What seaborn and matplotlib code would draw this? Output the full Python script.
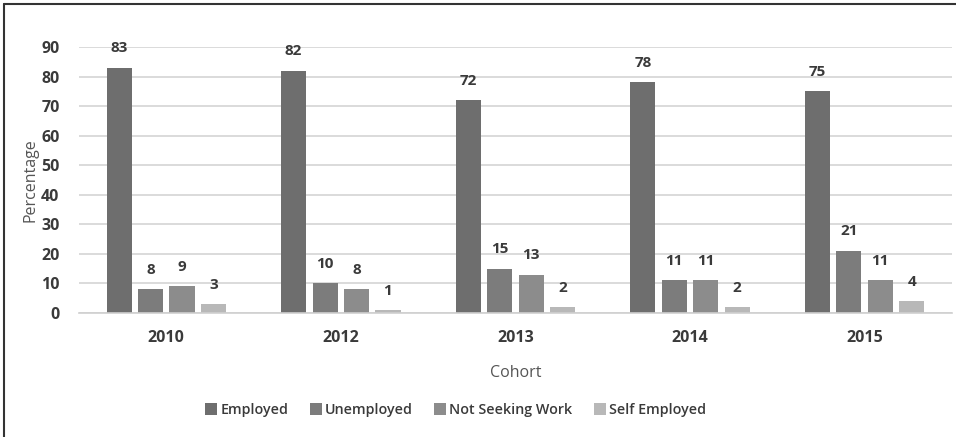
import matplotlib
matplotlib.use("Agg")
import matplotlib.pyplot as plt
from matplotlib.lines import Line2D
import seaborn as sns
import pandas as pd

cohorts = ["2010", "2012", "2013", "2014", "2015"]
statuses = ["Employed", "Unemployed", "Not Seeking Work", "Self Employed"]
employed = [83, 82, 72, 78, 75]
unemployed = [8, 10, 15, 11, 21]
not_seeking = [9, 8, 13, 11, 11]
self_employed = [3, 1, 2, 2, 4]
y_ticks = [0, 10, 20, 30, 40, 50, 60, 70, 80, 90]

palette = ["#6e6e6e", "#7c7c7c", "#8c8c8c", "#b8b8b8"]

rows = []
for status, values in zip(statuses, [employed, unemployed, not_seeking, self_employed]):
    for cohort, v in zip(cohorts, values):
        rows.append({"Cohort": cohort, "Status": status, "Percentage": v})
df = pd.DataFrame(rows)

sns.set_theme(style="white")
plt.rcParams["font.family"] = ["Open Sans", "DejaVu Sans"]

fig = plt.figure(figsize=(9.56, 4.37), dpi=100)
ax = fig.add_axes([0.0826, 0.2838, 0.913, 0.6086])

sns.barplot(data=df, x="Cohort", y="Percentage", hue="Status",
            order=cohorts, hue_order=statuses, palette=palette,
            width=0.72, gap=0.2, saturation=1, errorbar=None,
            linewidth=0, ax=ax, legend=False)

for container in ax.containers:
    ax.bar_label(container, padding=9, fontsize=11, fontweight="bold",
                 color="#3a3a3a")

ax.set_ylim(0, 90)
ax.set_yticks(y_ticks)
ax.yaxis.grid(True, color="#d4d4d4", linewidth=1.2)
ax.set_axisbelow(True)
for side in ["top", "right", "left"]:
    ax.spines[side].set_visible(False)
ax.spines["bottom"].set_color("#cfcfcf")
ax.spines["bottom"].set_linewidth(1.2)
ax.tick_params(axis="both", length=0, labelsize=11.5, labelcolor="#3a3a3a")
ax.tick_params(axis="x", pad=12)
ax.tick_params(axis="y", pad=14)
for lbl in ax.get_xticklabels() + ax.get_yticklabels():
    lbl.set_fontweight("bold")

ax.set_xlabel("Cohort", fontsize=11.5, color="#555555", labelpad=14)
ax.set_ylabel("Percentage", fontsize=11.5, color="#555555", labelpad=2)

handles = [Line2D([], [], marker="s", linestyle="none", markersize=8,
                  markerfacecolor=c, markeredgewidth=0) for c in palette]
leg = fig.legend(handles, statuses, loc="center", bbox_to_anchor=(0.4775, 0.062),
                 ncol=4, frameon=False, fontsize=10.3, handlelength=0.6,
                 handletextpad=0.35, columnspacing=1.6, labelcolor="#3a3a3a")
for t in leg.get_texts():
    t.set_fontweight("semibold")

# frame lines along the left and top edges of the figure
fig.add_artist(Line2D([0.0045, 0.0045], [0.0, 0.991], transform=fig.transFigure,
                      color="#333333", linewidth=1.5))
fig.add_artist(Line2D([0.0045, 1.0], [0.991, 0.991], transform=fig.transFigure,
                      color="#333333", linewidth=1.5))

fig.savefig("out.png", dpi=100, facecolor="white")
